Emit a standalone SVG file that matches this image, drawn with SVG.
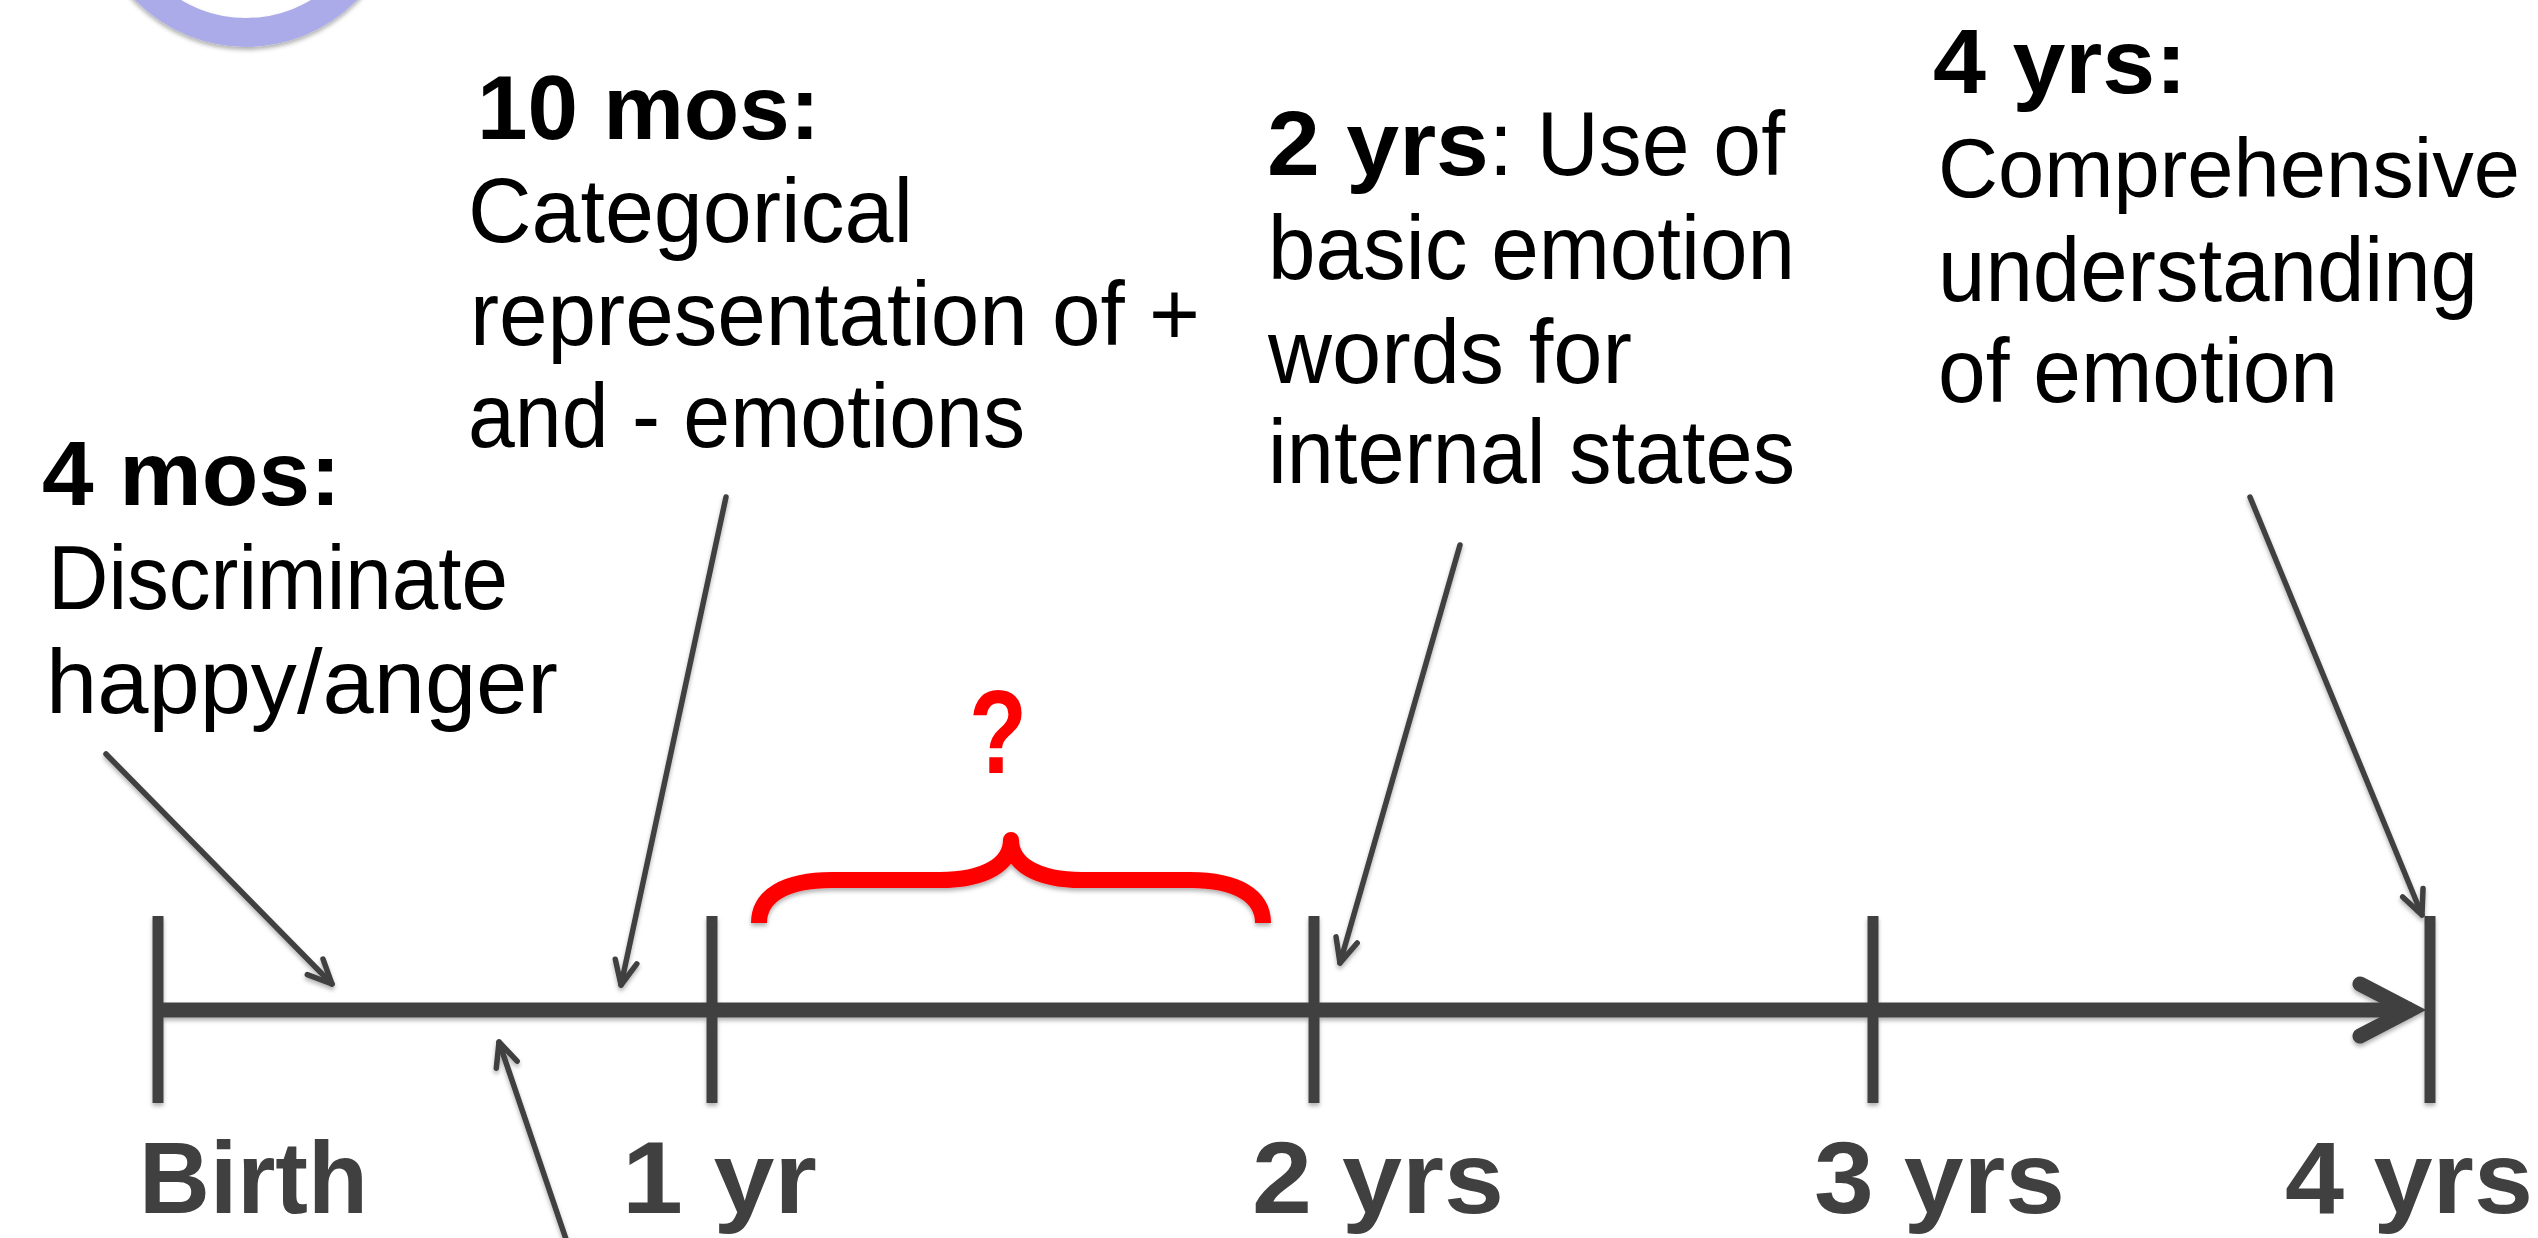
<svg xmlns="http://www.w3.org/2000/svg" width="2538" height="1238" viewBox="0 0 2538 1238">
  <style>
    .body { font-family: "Liberation Sans", Arial, sans-serif; font-size: 90px; fill: #000; }
    .head { font-family: "Liberation Sans", Arial, sans-serif; font-size: 90px; font-weight: bold; fill: #000; }
    .axis { font-family: "Liberation Sans", Arial, sans-serif; font-size: 102px; font-weight: bold; fill: #404040; }
    .tick { stroke: #404040; stroke-width: 11; fill: none; }
    .conn { stroke: #404040; stroke-width: 5.5; fill: none; stroke-linecap: round; }
    .q { font-family: "Liberation Sans", Arial, sans-serif; font-size: 118px; font-weight: bold; fill: #ff0000; }
  </style>
  <defs>
    <filter id="shadow" x="-10%" y="-10%" width="120%" height="130%">
      <feDropShadow dx="0" dy="3" stdDeviation="2" flood-color="#000" flood-opacity="0.3"/>
    </filter>
    <marker id="arrow" markerUnits="userSpaceOnUse" markerWidth="40" markerHeight="40" refX="0" refY="0" orient="auto" overflow="visible">
      <path d="M -24 -11 L 0 0 L -24 11" fill="none" stroke="#404040" stroke-width="5.5" stroke-linecap="round" stroke-linejoin="round"/>
    </marker>
  </defs>
  <rect width="2538" height="1238" fill="#ffffff"/>

  <!-- partial lavender ring at top-left -->
  <g id="ring" filter="url(#shadow)">
    <circle cx="246" cy="-108" r="140.5" fill="none" stroke="#ababe9" stroke-width="29"/>
  </g>

  <!-- timeline axis -->
  <g id="timeline" filter="url(#shadow)">
    <line x1="158" y1="1010" x2="2412" y2="1010" stroke="#404040" stroke-width="15"/>
    <polyline points="2360,984 2410,1010 2360,1036" fill="none" stroke="#404040" stroke-width="15" stroke-linecap="round" stroke-linejoin="miter"/>
    <line class="tick" x1="158" y1="916" x2="158" y2="1103"/>
    <line class="tick" x1="712" y1="916" x2="712" y2="1103"/>
    <line class="tick" x1="1314" y1="916" x2="1314" y2="1103"/>
    <line class="tick" x1="1873" y1="916" x2="1873" y2="1103"/>
    <line class="tick" x1="2430" y1="916" x2="2430" y2="1103"/>
  </g>
  <g id="axis-labels">
    <text class="axis" x="139" y="1213" textLength="229" lengthAdjust="spacingAndGlyphs">Birth</text>
    <text class="axis" x="622" y="1213" textLength="195" lengthAdjust="spacingAndGlyphs">1 yr</text>
    <text class="axis" x="1252" y="1213" textLength="252" lengthAdjust="spacingAndGlyphs">2 yrs</text>
    <text class="axis" x="1814" y="1213" textLength="251" lengthAdjust="spacingAndGlyphs">3 yrs</text>
    <text class="axis" x="2285" y="1213" textLength="248" lengthAdjust="spacingAndGlyphs">4 yrs</text>
  </g>

  <!-- red brace with question mark -->
  <g id="gap-brace">
    <path filter="url(#shadow)" d="M 759 923 C 759 896, 785 880, 832 880 L 940 880 C 985 880, 1011 864, 1011 840 C 1011 864, 1037 880, 1082 880 L 1190 880 C 1237 880, 1263 896, 1263 923" fill="none" stroke="#ff0000" stroke-width="16" stroke-linecap="butt" stroke-linejoin="round"/>
    <text class="q" x="998" y="773" text-anchor="middle" textLength="58" lengthAdjust="spacingAndGlyphs">?</text>
  </g>

  <!-- milestone nodes -->
  <g id="node-4mos">
    <text class="head" x="42" y="505" textLength="299" lengthAdjust="spacingAndGlyphs">4 mos:</text>
    <text class="body" x="48" y="609" textLength="460" lengthAdjust="spacingAndGlyphs">Discriminate</text>
    <text class="body" x="46" y="713" textLength="512" lengthAdjust="spacingAndGlyphs">happy/anger</text>
  </g>
  <g id="node-10mos">
    <text class="head" x="477" y="139" textLength="343" lengthAdjust="spacingAndGlyphs">10 mos:</text>
    <text class="body" x="468" y="242" textLength="445" lengthAdjust="spacingAndGlyphs">Categorical</text>
    <text class="body" x="470" y="345" textLength="730" lengthAdjust="spacingAndGlyphs">representation of +</text>
    <text class="body" x="468" y="447" textLength="557" lengthAdjust="spacingAndGlyphs">and - emotions</text>
  </g>
  <g id="node-2yrs">
    <text class="head" x="1267" y="175" textLength="222" lengthAdjust="spacingAndGlyphs">2 yrs</text>
    <text class="body" x="1489" y="175" textLength="296" lengthAdjust="spacingAndGlyphs">: Use of</text>
    <text class="body" x="1268" y="279" textLength="527" lengthAdjust="spacingAndGlyphs">basic emotion</text>
    <text class="body" x="1268" y="383" textLength="364" lengthAdjust="spacingAndGlyphs">words for</text>
    <text class="body" x="1268" y="483" textLength="527" lengthAdjust="spacingAndGlyphs">internal states</text>
  </g>
  <g id="node-4yrs">
    <text class="head" x="1933" y="93" textLength="254" lengthAdjust="spacingAndGlyphs">4 yrs:</text>
    <text class="body" x="1938" y="197" style="font-size:84px" textLength="582" lengthAdjust="spacingAndGlyphs">Comprehensive</text>
    <text class="body" x="1938" y="301" textLength="540" lengthAdjust="spacingAndGlyphs">understanding</text>
    <text class="body" x="1938" y="402" textLength="400" lengthAdjust="spacingAndGlyphs">of emotion</text>
  </g>

  <!-- connectors -->
  <g id="connectors" filter="url(#shadow)">
    <line class="conn" x1="106" y1="754" x2="332" y2="984" marker-end="url(#arrow)"/>
    <line class="conn" x1="726" y1="497" x2="621" y2="985" marker-end="url(#arrow)"/>
    <line class="conn" x1="568" y1="1245" x2="499" y2="1042" marker-end="url(#arrow)"/>
    <line class="conn" x1="1460" y1="545" x2="1340" y2="963" marker-end="url(#arrow)"/>
    <line class="conn" x1="2250" y1="497" x2="2422" y2="915" marker-end="url(#arrow)"/>
  </g>
</svg>
